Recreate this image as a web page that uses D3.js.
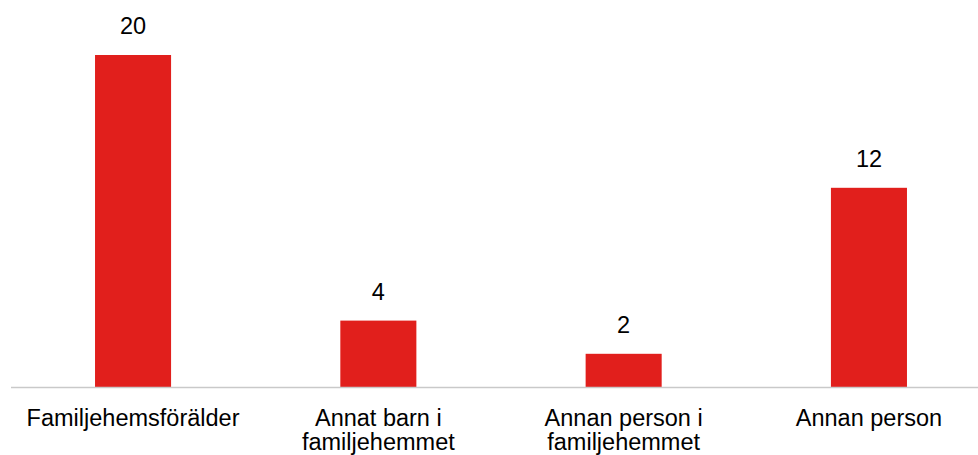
<!DOCTYPE html>
<html>
<head>
<meta charset="utf-8">
<script src="https://cdn.jsdelivr.net/npm/d3@7"></script>
<style>
  html, body { margin: 0; padding: 0; background: #fff; }
  svg { display: block; }
</style>
</head>
<body>
<div id="chart"></div>
<script>
const categories = [["Familjehemsförälder"], ["Annat barn i", "familjehemmet"], ["Annan person i", "familjehemmet"], ["Annan person"]];
const values = [20, 4, 2, 12];

const W = 978, H = 455;
const baseY = 387;
const svg = d3.select("#chart").append("svg").attr("width", W).attr("height", H);

const x = d3.scaleBand()
  .domain(d3.range(values.length))
  .range([10.4, 991.6])
  .paddingInner(0.69)
  .paddingOuter(0.345);

const y = d3.scaleLinear().domain([0, 20]).range([baseY, 55]);

const font = "'Liberation Sans', Arial, sans-serif";

svg.selectAll("rect.bar").data(values).join("rect")
  .attr("class", "bar")
  .attr("x", (d, i) => x(i))
  .attr("width", x.bandwidth())
  .attr("y", d => y(d))
  .attr("height", d => baseY - y(d))
  .attr("fill", "#E11F1C");

svg.append("line")
  .attr("x1", 11).attr("x2", W)
  .attr("y1", baseY + 0.5).attr("y2", baseY + 0.5)
  .attr("stroke", "#c9c9c9").attr("stroke-width", 1.5);

svg.selectAll("text.val").data(values).join("text")
  .attr("class", "val")
  .attr("x", (d, i) => x(i) + x.bandwidth() / 2)
  .attr("y", d => y(d) - 21)
  .attr("text-anchor", "middle")
  .attr("font-family", font)
  .attr("font-size", "23.5px")
  .attr("fill", "#000")
  .text(d => d);

const lab = svg.selectAll("text.cat").data(categories).join("text")
  .attr("class", "cat")
  .attr("text-anchor", "middle")
  .attr("font-family", font)
  .attr("font-size", "23.5px")
  .attr("fill", "#000");
lab.each(function(lines, i) {
  const t = d3.select(this);
  lines.forEach((s, j) => {
    t.append("tspan")
      .attr("x", x(i) + x.bandwidth() / 2)
      .attr("y", 425.5 + j * 24.5)
      .text(s);
  });
});
</script>
</body>
</html>
